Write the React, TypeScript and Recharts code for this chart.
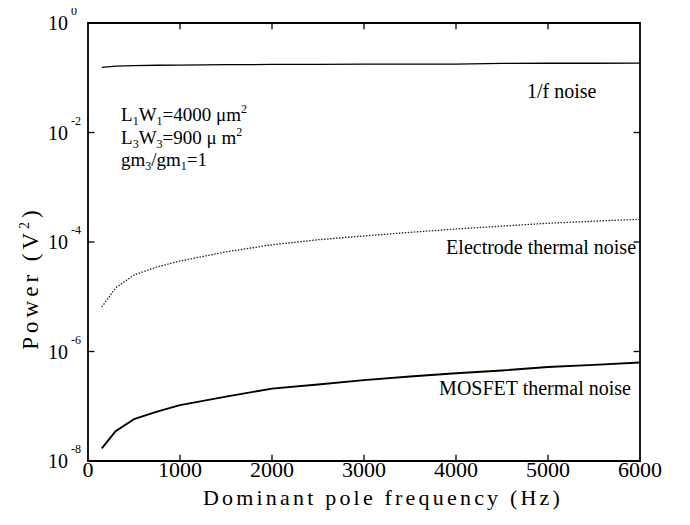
import React from "react";
import { LineChart, Line, XAxis, YAxis, ReferenceDot, ReferenceArea, ReferenceLine } from "recharts";

const freqs = [150, 300, 500, 750, 1000, 1500, 2000, 2500, 3000, 3500, 4000, 4500, 5000, 5500, 6000];
const flickerNoise = [0.155, 0.163, 0.167, 0.169, 0.17, 0.173, 0.175, 0.176, 0.177, 0.178, 0.178, 0.183, 0.184, 0.184, 0.185];
const electrodeNoise = [6.5e-6, 1.45e-5, 2.5e-5, 3.5e-5, 4.5e-5, 6.6e-5, 8.9e-5, 1.1e-4, 1.29e-4, 1.5e-4, 1.73e-4, 1.95e-4, 2.2e-4, 2.4e-4, 2.6e-4];
const mosfetNoise = [1.7e-8, 3.5e-8, 5.8e-8, 8e-8, 1.05e-7, 1.5e-7, 2.1e-7, 2.5e-7, 3.0e-7, 3.5e-7, 4.0e-7, 4.5e-7, 5.2e-7, 5.7e-7, 6.3e-7];

const xTicks = [0, 1000, 2000, 3000, 4000, 5000, 6000];
const yTicks = [1e-8, 1e-6, 1e-4, 1e-2, 1];
const X_MIN = 0, X_MAX = 6000, Y_MIN = 1e-8, Y_MAX = 1;

const seriesLabels = ["1/f noise", "Electrode thermal noise", "MOSFET thermal noise"];

const data = freqs.map((f, i) => ({
  f,
  flicker: flickerNoise[i],
  electrode: electrodeNoise[i],
  mosfet: mosfetNoise[i],
}));

// tick length, expressed along each axis (style constants)
const TICK_X = 70; // Hz along x for y-ticks
const TICK_Y = 1.3; // factor along log-y for x-ticks

const FONT = "Liberation Serif";
const ts = { fontFamily: FONT };

const YTick = (props: any) => {
  const { y, payload } = props;
  const exp = Math.round(Math.log10(payload.value));
  return (
    <text x={40} y={y + 7} style={ts} fontSize={20} fill="#000">
      10
      <tspan dx={3} dy={-15} fontSize={12}>{exp === 0 ? "0" : "-" + Math.abs(exp)}</tspan>
    </text>
  );
};

const XTick = (props: any) => {
  const { x, payload } = props;
  return (
    <text x={x} y={469} textAnchor="middle" style={ts} fontSize={22} fill="#000">
      {payload.value}
    </text>
  );
};

const XTitle = (props: any) => {
  const vb = props.viewBox;
  return (
    <text x={vb.x + vb.width / 2 + 19} y={497} textAnchor="middle" style={ts} fontSize={22} letterSpacing={3.2} fill="#000">
      Dominant pole frequency (Hz)
    </text>
  );
};

const YTitle = () => (
  <text x={30} y={270} transform="rotate(-90 30 270)" textAnchor="middle" style={ts} fontSize={23} letterSpacing={4} fill="#000">
    Power (V
    <tspan dy={-9} fontSize={14}>2</tspan>
    <tspan dy={9}>)</tspan>
  </text>
);

const simpleLabel = (text: string, anchor: string) => (props: any) => {
  const vb = props.viewBox;
  const cx = vb.x + (vb.width || 0) / 2;
  const cy = vb.y + (vb.height || 0) / 2;
  return (
    <text x={cx} y={cy} textAnchor={anchor} style={ts} fontSize={20} fill="#000">
      {text}
    </text>
  );
};

const ParamBox = (props: any) => {
  const vb = props.viewBox;
  const x = vb.x + (vb.width || 0) / 2;
  const y = vb.y + (vb.height || 0) / 2;
  const sub = 12;
  return (
    <text x={x} y={y} style={ts} fontSize={19} fill="#000">
      <tspan x={x} y={y}>L</tspan>
      <tspan dy={4} fontSize={sub}>1</tspan>
      <tspan dy={-4}>W</tspan>
      <tspan dy={4} fontSize={sub}>1</tspan>
      <tspan dy={-4}>=4000 μm</tspan>
      <tspan dy={-8} fontSize={sub}>2</tspan>
      <tspan x={x} y={y + 23}>L</tspan>
      <tspan dy={4} fontSize={sub}>3</tspan>
      <tspan dy={-4}>W</tspan>
      <tspan dy={4} fontSize={sub}>3</tspan>
      <tspan dy={-4}>=900 μ m</tspan>
      <tspan dy={-8} fontSize={sub}>2</tspan>
      <tspan x={x} y={y + 45}>gm</tspan>
      <tspan dy={4} fontSize={sub}>3</tspan>
      <tspan dy={-4}>/gm</tspan>
      <tspan dy={4} fontSize={sub}>1</tspan>
      <tspan dy={-4}>=1</tspan>
    </text>
  );
};

export default function App() {
  return (
    <div style={{ width: 682, height: 510, background: "#fff" }}>
      <LineChart width={682} height={510} data={data} margin={{ top: 15, right: 50, bottom: 0, left: 0 }}>
        <XAxis
          dataKey="f"
          type="number"
          domain={[X_MIN, X_MAX]}
          ticks={xTicks}
          allowDataOverflow
          height={57}
          axisLine={false}
          tickLine={false}
          tick={<XTick />}
          label={<XTitle />}
        />
        <YAxis
          scale="log"
          type="number"
          domain={[Y_MIN, Y_MAX]}
          ticks={yTicks}
          allowDataOverflow
          width={80}
          axisLine={false}
          tickLine={false}
          tick={<YTick />}
          label={<YTitle />}
        />
        <ReferenceArea x1={X_MIN} x2={X_MAX} y1={Y_MIN} y2={Y_MAX} fill="none" fillOpacity={0} stroke="#000" strokeWidth={1.8} ifOverflow="visible" />
        {xTicks.slice(1, -1).map((t) => (
          <ReferenceLine key={"xb" + t} segment={[{ x: t, y: Y_MIN }, { x: t, y: Y_MIN * TICK_Y }]} stroke="#000" strokeWidth={1.3} ifOverflow="visible" />
        ))}
        {xTicks.slice(1, -1).map((t) => (
          <ReferenceLine key={"xt" + t} segment={[{ x: t, y: Y_MAX }, { x: t, y: Y_MAX / TICK_Y }]} stroke="#000" strokeWidth={1.3} ifOverflow="visible" />
        ))}
        {yTicks.slice(1, -1).map((t) => (
          <ReferenceLine key={"yl" + t} segment={[{ x: X_MIN, y: t }, { x: X_MIN + TICK_X, y: t }]} stroke="#000" strokeWidth={1.3} ifOverflow="visible" />
        ))}
        {yTicks.slice(1, -1).map((t) => (
          <ReferenceLine key={"yr" + t} segment={[{ x: X_MAX, y: t }, { x: X_MAX - TICK_X, y: t }]} stroke="#000" strokeWidth={1.3} ifOverflow="visible" />
        ))}
        <Line dataKey="flicker" stroke="#000" strokeWidth={1.3} dot={false} isAnimationActive={false} />
        <Line dataKey="electrode" stroke="#222" strokeWidth={1.3} strokeDasharray="1.5 1.5" dot={false} isAnimationActive={false} />
        <Line dataKey="mosfet" stroke="#000" strokeWidth={1.9} dot={false} isAnimationActive={false} />
        <ReferenceDot x={4772} y={0.0427} r={0} fill="none" stroke="none" label={{ content: simpleLabel(seriesLabels[0], "start") }} />
        <ReferenceDot x={5957} y={6.0e-5} r={0} fill="none" stroke="none" label={{ content: simpleLabel(seriesLabels[1], "end") }} />
        <ReferenceDot x={5902} y={1.6e-7} r={0} fill="none" stroke="none" label={{ content: simpleLabel(seriesLabels[2], "end") }} />
        <ReferenceDot x={359} y={0.0162} r={0} fill="none" stroke="none" label={{ content: ParamBox }} />
      </LineChart>
    </div>
  );
}
